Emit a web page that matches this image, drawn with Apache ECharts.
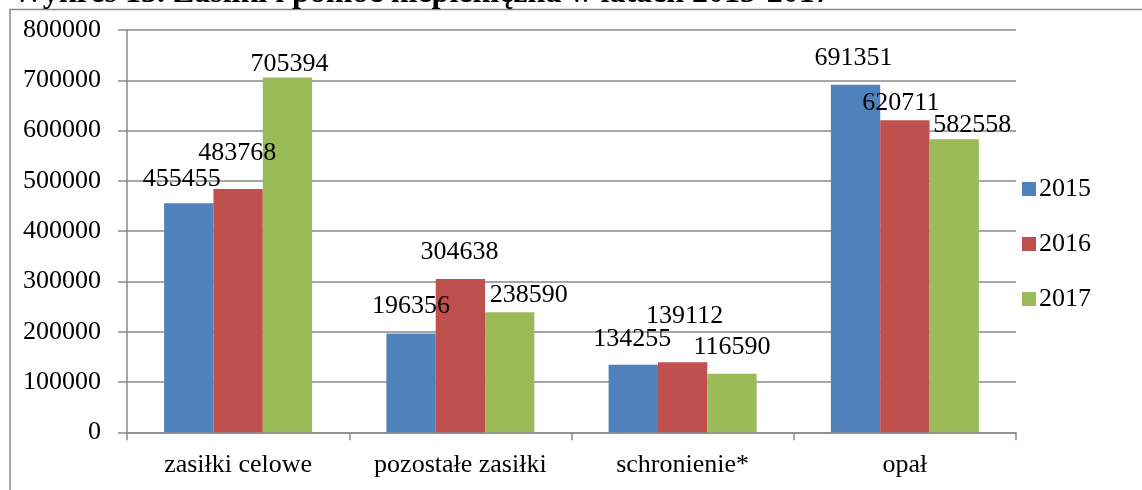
<!DOCTYPE html>
<html>
<head>
<meta charset="utf-8">
<script src="https://cdn.jsdelivr.net/npm/echarts@6/dist/echarts.min.js"></script>
<style>
html,body{margin:0;padding:0;background:#fff;}
#chart{width:1142px;height:490px;}
</style>
</head>
<body>
<div id="chart"></div>
<script>
const categories = ['zasiłki celowe', 'pozostałe zasiłki', 'schronienie*', 'opał'];
const seriesNames = ['2015', '2016', '2017'];
const values2015 = [455455, 196356, 134255, 691351];
const values2016 = [483768, 304638, 139112, 620711];
const values2017 = [705394, 238590, 116590, 582558];
const yTicks = [0, 100000, 200000, 300000, 400000, 500000, 600000, 700000, 800000];
const titleText = 'Wykres 13. Zasiłki i pomoc niepieniężna w latach 2015-2017';

// label nudges (styling only), [dx, dy] per series per category
const labelNudge = [
  [[-7, -11], [0, -14], [-1, -13], [-2, -13]],
  [[-1, -23], [-1, -14], [2, -33], [-4, -4]],
  [[2, 0], [19, -4], [0, -13], [18, -1]]
];

const colors = ['#4F81BD', '#C0504D', '#9BBB59'];
const FONT = '"Liberation Serif", "Times New Roman", serif';
const GRID = '#8a8a8a';
const allValues = [values2015, values2016, values2017];

const chart = echarts.init(document.getElementById('chart'), null, {renderer: 'canvas'});

const series = allValues.map((vals, si) => ({
  name: seriesNames[si],
  type: 'bar',
  barGap: '0%',
  barCategoryGap: '33.4%',
  itemStyle: {color: colors[si]},
  label: {
    show: true,
    position: 'top',
    distance: 0,
    color: '#000',
    fontFamily: FONT,
    fontSize: 26
  },
  data: vals.map((v, ci) => ({
    value: v,
    label: {offset: labelNudge[si][ci]}
  }))
}));

chart.setOption({
  animation: false,
  backgroundColor: '#fff',
  grid: {left: 127, right: 126, top: 30, bottom: 57.7, containLabel: false},
  legend: {
    orient: 'vertical',
    left: 1017,
    top: 171,
    icon: 'rect',
    itemWidth: 14,
    itemHeight: 14,
    itemGap: 29,
    textStyle: {fontFamily: FONT, fontSize: 26, color: '#000', padding: [0, 0, 0, -2]},
    data: seriesNames
  },
  xAxis: {
    type: 'category',
    data: categories,
    axisLine: {show: true, lineStyle: {color: GRID, width: 1.5}},
    axisTick: {show: true, length: 8, lineStyle: {color: GRID, width: 1.5}},
    axisLabel: {fontFamily: FONT, fontSize: 26, color: '#000', margin: 20, interval: 0}
  },
  yAxis: {
    type: 'value',
    min: yTicks[0],
    max: yTicks[yTicks.length - 1],
    interval: yTicks[1] - yTicks[0],
    axisLine: {show: true, lineStyle: {color: GRID, width: 1.5}},
    axisTick: {show: true, length: 9, lineStyle: {color: GRID, width: 1.5}},
    axisLabel: {fontFamily: FONT, fontSize: 26, color: '#000', margin: 26,
      formatter: function (v) { return String(v); }},
    splitLine: {show: true, lineStyle: {color: GRID, width: 1.5}}
  },
  graphic: [
    {
      type: 'polyline',
      silent: true,
      shape: {points: [[10, 490], [10, 9.5], [1142, 9.5]]},
      style: {stroke: '#8a8a8a', lineWidth: 1.5, fill: null}
    },
    {
      type: 'text',
      left: 12,
      top: -22,
      silent: true,
      style: {
        text: titleText,
        fontFamily: FONT,
        fontWeight: 'bold',
        fontSize: 32,
        fill: '#000'
      }
    }
  ],
  series: series
});
</script>
</body>
</html>
